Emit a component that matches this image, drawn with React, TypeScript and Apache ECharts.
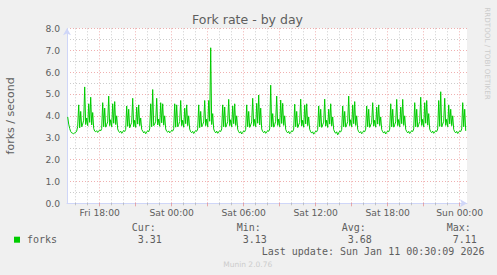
import React, { useEffect, useRef } from "react";
import * as echarts from "echarts";

const TITLE = "Fork rate - by day";
const Y_NAME = "forks / second";
const SERIES_NAME = "forks";
const WATERMARK = "RRDTOOL / TOBI OETIKER";
const FOOTER = "Munin 2.0.76";
const LAST_UPDATE = "Last update: Sun Jan 11 00:30:09 2026";

// hours relative to Sat 00:00
const START_HOURS = -8 - 40 / 60; // Fri 15:20
const STEP_HOURS = 5 / 60; // 5 minute samples
const X_MIN = -8.725;
const X_MAX = 24.608;

const X_LABEL_HOURS = [-6, 0, 6, 12, 18, 24];
const X_LABEL_TEXT = ["Fri 18:00", "Sat 00:00", "Sat 06:00", "Sat 12:00", "Sat 18:00", "Sun 00:00"];
const MAJOR_GRID_HOURS = [-6, -3, 0, 3, 6, 9, 12, 15, 18, 21, 24];
const MINOR_GRID_HOURS = [-8, -7, -5, -4, -2, -1, 1, 2, 4, 5, 7, 8, 10, 11, 13, 14, 16, 17, 19, 20, 22, 23];

const Y_MIN = 0;
const Y_MAX = 8;
const Y_STEP = 1;

const STAT_LABELS = ["Cur:", "Min:", "Avg:", "Max:"];
const STAT_VALUES = ["3.31", "3.13", "3.68", "7.11"];

// forks / second, 5-minute samples from Fri 15:20 to Sun 00:30
const FORK_RATE = [
  3.95, 3.62, 3.42, 3.28, 3.22, 3.2, 3.18, 3.22, 3.24, 3.3, 3.52,
  4.5, 3.45, 4.2, 3.5, 3.62, 3.8, 5.32, 3.6, 3.9, 3.55, 4.55, 3.7, 4.85, 3.58, 4.15, 3.42, 3.3, 3.27, 3.32, 3.24, 3.29, 3.36, 3.31, 3.42,
  4.6, 3.5, 4.35, 3.48, 3.6, 3.72, 4.9, 3.55, 3.82, 3.5, 4.55, 3.66, 4.65, 3.6, 4.0, 3.4, 3.28, 3.24, 3.3, 3.2, 3.26, 3.33, 3.28, 3.38,
  4.45, 3.52, 4.3, 3.45, 3.58, 3.7, 4.8, 3.5, 3.8, 3.47, 4.4, 3.62, 4.5, 3.55, 3.9, 3.38, 3.3, 3.22, 3.28, 3.18, 3.25, 3.32, 3.27, 3.4,
  4.55, 3.5, 5.2, 3.55, 3.62, 3.75, 4.8, 3.58, 3.85, 3.52, 4.6, 3.68, 4.55, 3.57, 4.0, 3.4, 3.29, 3.25, 3.31, 3.22, 3.27, 3.34, 3.3, 3.41,
  4.55, 3.48, 4.5, 3.5, 3.6, 3.74, 4.7, 3.55, 3.8, 3.48, 4.35, 3.64, 4.5, 3.55, 4.0, 3.39, 3.27, 3.23, 3.29, 3.19, 3.26, 3.33, 3.29, 3.4,
  4.5, 3.46, 4.2, 3.5, 3.6, 3.72, 4.7, 3.55, 3.85, 3.5, 4.7, 3.75, 7.11, 3.6, 4.1, 3.4, 3.28, 3.22, 3.3, 3.2, 3.26, 3.32, 3.28, 3.4,
  4.5, 3.5, 4.4, 3.48, 3.6, 3.73, 4.75, 3.55, 3.82, 3.5, 4.45, 3.64, 4.55, 3.56, 4.0, 3.38, 3.27, 3.21, 3.28, 3.17, 3.24, 3.31, 3.27, 3.38,
  4.5, 3.5, 4.2, 3.47, 3.58, 3.72, 4.8, 3.54, 3.84, 3.5, 4.57, 3.66, 4.95, 3.58, 4.35, 3.4, 3.28, 3.23, 3.3, 3.2, 3.25, 3.33, 3.29, 3.4,
  5.4, 3.5, 4.1, 3.48, 3.6, 3.75, 4.9, 3.56, 3.85, 3.5, 4.72, 3.65, 4.57, 3.56, 4.0, 3.38, 3.27, 3.22, 3.29, 3.18, 3.24, 3.31, 3.28, 3.39,
  4.53, 3.5, 4.2, 3.46, 3.58, 3.7, 4.76, 3.54, 3.8, 3.48, 4.5, 3.63, 4.55, 3.55, 3.95, 3.38, 3.27, 3.21, 3.27, 3.16, 3.23, 3.3, 3.27, 3.38,
  4.45, 3.5, 4.3, 3.47, 3.59, 3.71, 4.76, 3.53, 3.8, 3.47, 4.3, 3.62, 4.55, 3.54, 3.95, 3.37, 3.26, 3.2, 3.27, 3.13, 3.22, 3.3, 3.26, 3.38,
  4.45, 3.5, 4.2, 3.48, 3.6, 3.73, 4.9, 3.55, 3.82, 3.5, 4.5, 3.64, 4.65, 3.56, 4.0, 3.38, 3.27, 3.22, 3.28, 3.18, 3.24, 3.31, 3.27, 3.39,
  4.45, 3.5, 4.3, 3.47, 3.58, 3.7, 4.6, 3.53, 3.8, 3.48, 4.4, 3.62, 4.5, 3.55, 3.95, 3.37, 3.27, 3.21, 3.28, 3.17, 3.24, 3.31, 3.27, 3.39,
  4.55, 3.5, 4.3, 3.48, 3.6, 3.72, 4.75, 3.55, 3.83, 3.5, 4.4, 3.64, 4.75, 3.56, 4.0, 3.38, 3.28, 3.22, 3.29, 3.19, 3.25, 3.32, 3.28, 3.4,
  4.6, 3.5, 4.3, 3.48, 3.6, 3.74, 4.85, 3.56, 3.84, 3.5, 4.6, 3.66, 4.7, 3.57, 4.1, 3.39, 3.28, 3.23, 3.3, 3.2, 3.25, 3.32, 3.28, 3.4,
  4.7, 3.52, 5.1, 3.5, 3.62, 3.75, 4.8, 3.56, 3.84, 3.5, 4.5, 3.63, 4.3, 3.55, 4.0, 3.38, 3.27, 3.22, 3.29, 3.19, 3.25, 3.31, 3.28, 3.4,
  4.6, 3.5, 4.3, 3.31,
];

const TEXT_COLOR = "#5e5e5e";
const AXIS_COLOR = "#CFD6F8";
const GRID_MINOR = "rgba(143,143,143,0.45)";
const GRID_MAJOR = "rgba(222,79,79,0.45)";
const LINE_COLOR = "#00CC00";

export default function App() {
  const ref = useRef<HTMLDivElement>(null);

  useEffect(() => {
    if (!ref.current) return;
    const chart = echarts.init(ref.current, null, { renderer: "svg" });
    const seriesData = FORK_RATE.map((v, i) => [START_HOURS + i * STEP_HOURS, v]);
    const statX = [131.7, 236.7, 341.7, 446.7];

    const graphic: any[] = [
      {
        type: "text", x: 247.5, y: 19.5,
        style: { text: TITLE, fill: TEXT_COLOR, fontSize: 12.5, fontFamily: "DejaVu Sans", textAlign: "center", textVerticalAlign: "middle" },
      },
      {
        type: "text", x: 10.5, y: 115.8, rotation: Math.PI / 2,
        style: { text: Y_NAME, fill: TEXT_COLOR, fontSize: 11, fontFamily: "DejaVu Sans", textAlign: "center", textVerticalAlign: "middle" },
      },
      {
        type: "text", x: 487.7, y: 53.5, rotation: -Math.PI / 2,
        style: { text: WATERMARK, fill: "#cccccc", fontSize: 7.2, fontFamily: "DejaVu Sans", textAlign: "center", textVerticalAlign: "middle" },
      },
      {
        type: "rect", shape: { x: 14, y: 236.7, width: 6, height: 6 },
        style: { fill: LINE_COLOR },
      },
      {
        type: "text", x: 27, y: 239.5,
        style: { text: SERIES_NAME, fill: TEXT_COLOR, fontSize: 10, fontFamily: "DejaVu Sans Mono", textAlign: "left", textVerticalAlign: "middle" },
      },
      {
        type: "text", x: 261.7, y: 251.5,
        style: { text: LAST_UPDATE, fill: TEXT_COLOR, fontSize: 10, fontFamily: "DejaVu Sans Mono", textAlign: "left", textVerticalAlign: "middle" },
      },
      {
        type: "text", x: 247.7, y: 264.5,
        style: { text: FOOTER, fill: "#cccccc", fontSize: 7.5, fontFamily: "DejaVu Sans", textAlign: "center", textVerticalAlign: "middle" },
      },
    ];
    STAT_LABELS.forEach((lab, k) => {
      graphic.push({
        type: "text", x: statX[k], y: 227.5,
        style: { text: lab, fill: TEXT_COLOR, fontSize: 10, fontFamily: "DejaVu Sans Mono", textAlign: "left", textVerticalAlign: "middle" },
      });
      graphic.push({
        type: "text", x: statX[k] + 6, y: 239.5,
        style: { text: STAT_VALUES[k], fill: TEXT_COLOR, fontSize: 10, fontFamily: "DejaVu Sans Mono", textAlign: "left", textVerticalAlign: "middle" },
      });
    });

    const labelStyle = { color: TEXT_COLOR, fontSize: 9.2, fontFamily: "DejaVu Sans" };

    chart.setOption({
      animation: false,
      backgroundColor: "#F0F0F0",
      textStyle: { fontFamily: "DejaVu Sans" },
      grid: { left: 67, top: 28.3, width: 400, height: 175, show: true, backgroundColor: "#FFFFFF", borderWidth: 0, containLabel: false },
      xAxis: [
        {
          type: "value", min: X_MIN, max: X_MAX, position: "bottom",
          axisLine: { show: true, onZero: false, symbol: ["none", "arrow"], symbolSize: [6, 7], lineStyle: { color: AXIS_COLOR, width: 1 } },
          axisTick: { show: true, customValues: MAJOR_GRID_HOURS, length: 3, lineStyle: { color: GRID_MAJOR } },
          axisLabel: {
            show: true, customValues: X_LABEL_HOURS, margin: 5, ...labelStyle,
            formatter: (v: number) => {
              const idx = X_LABEL_HOURS.indexOf(Math.round(v));
              return idx >= 0 ? X_LABEL_TEXT[idx] : "";
            },
          },
          splitLine: { show: false },
        },
        {
          type: "value", min: X_MIN, max: X_MAX, position: "bottom",
          axisLine: { show: false, onZero: false },
          axisTick: { show: true, customValues: MINOR_GRID_HOURS, length: 2, lineStyle: { color: GRID_MINOR } },
          axisLabel: { show: false },
          splitLine: { show: false },
        },
      ],
      yAxis: {
        type: "value", min: Y_MIN, max: Y_MAX, interval: Y_STEP,
        axisLine: { show: true, onZero: false, symbol: ["none", "arrow"], symbolSize: [6, 7], lineStyle: { color: AXIS_COLOR, width: 1 } },
        axisTick: { show: false },
        axisLabel: { margin: 7, ...labelStyle, formatter: (v: number) => v.toFixed(1) },
        splitLine: { show: true, lineStyle: { color: GRID_MAJOR, type: [1, 2], width: 1 } },
        minorTick: { show: false, splitNumber: 2 },
        minorSplitLine: { show: true, lineStyle: { color: GRID_MINOR, type: [1, 2], width: 1 } },
      },
      series: [
        {
          type: "line", data: [], z: 1, silent: true,
          markLine: {
            silent: true, symbol: ["none", "none"], label: { show: false }, animation: false,
            lineStyle: { color: GRID_MINOR, type: [1, 2], width: 1 },
            data: MINOR_GRID_HOURS.map((h) => ({ xAxis: h })),
          },
        },
        {
          type: "line", data: [], z: 1, silent: true,
          markLine: {
            silent: true, symbol: ["none", "none"], label: { show: false }, animation: false,
            lineStyle: { color: GRID_MAJOR, type: [1, 2], width: 1 },
            data: MAJOR_GRID_HOURS.map((h) => ({ xAxis: h })),
          },
        },
        {
          type: "line", name: SERIES_NAME, data: seriesData, z: 5,
          showSymbol: false, symbol: "none",
          lineStyle: { color: LINE_COLOR, width: 1 },
        },
      ],
      graphic,
    });

    return () => chart.dispose();
  }, []);

  return (
    <div style={{ position: "fixed", left: 0, top: 0, width: 497, height: 275, background: "#F0F0F0" }}>
      <div ref={ref} style={{ width: 497, height: 275 }} />
    </div>
  );
}
